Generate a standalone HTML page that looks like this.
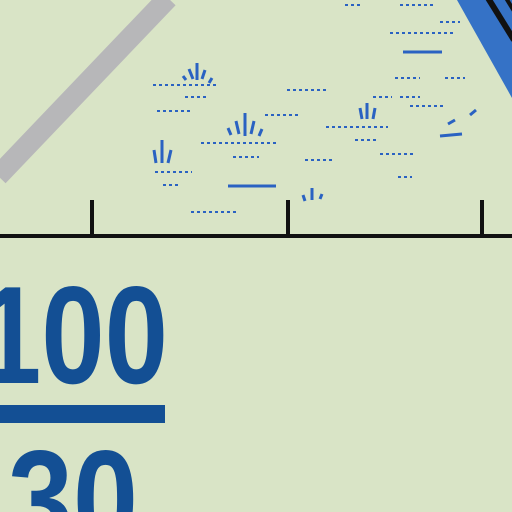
<!DOCTYPE html>
<html><head><meta charset="utf-8"><style>
html,body{margin:0;padding:0;background:#d9e4c6;width:512px;height:512px;overflow:hidden;}
svg{display:block}
</style></head><body>
<svg width="512" height="512" viewBox="0 0 512 512" style="overflow:hidden">
<rect width="512" height="512" fill="#d9e4c6"/>
<line x1="168" y1="-2" x2="-2" y2="176" stroke="#b7b7b9" stroke-width="21"/>
<g>
<polygon points="457,0 512,0 512,98" fill="#3572c6"/>
<line x1="488" y1="-2" x2="514" y2="40" stroke="#111" stroke-width="6"/>
<line x1="506" y1="-2" x2="514" y2="11" stroke="#111" stroke-width="4"/>
</g>
<g stroke="#2a62c2" fill="none">
<g stroke-width="3">
<line x1="197" y1="63" x2="197" y2="80"/><line x1="189" y1="69" x2="193" y2="79"/><line x1="205" y1="70" x2="202" y2="79"/><line x1="183" y1="76" x2="186" y2="80"/><line x1="212" y1="78" x2="209" y2="83"/>
<line x1="245" y1="113" x2="245" y2="136"/><line x1="236" y1="121" x2="239" y2="134"/><line x1="254" y1="121" x2="251" y2="134"/><line x1="228" y1="128" x2="231" y2="135"/><line x1="262" y1="129" x2="259" y2="136"/>
<line x1="162" y1="140" x2="162" y2="163"/><line x1="154" y1="150" x2="156" y2="163"/><line x1="171" y1="150" x2="168" y2="163"/>
<line x1="367" y1="103" x2="367" y2="119"/><line x1="360" y1="108" x2="362" y2="119"/><line x1="375" y1="108" x2="373" y2="119"/>
<line x1="312" y1="188" x2="312" y2="200"/><line x1="303" y1="195" x2="305" y2="201"/><line x1="322" y1="194" x2="320" y2="199"/>
<line x1="228" y1="186" x2="276" y2="186"/><line x1="403" y1="52" x2="442" y2="52"/><line x1="440" y1="136" x2="462" y2="134"/>
<line x1="448" y1="124" x2="455" y2="120"/><line x1="470" y1="115" x2="476" y2="110"/>
</g>
<g stroke-width="2" stroke-dasharray="3 3">
<line x1="153" y1="85" x2="218" y2="85"/><line x1="185" y1="97" x2="206" y2="97"/><line x1="157" y1="111" x2="192" y2="111"/>
<line x1="201" y1="143" x2="277" y2="143"/><line x1="233" y1="157" x2="259" y2="157"/><line x1="155" y1="172" x2="192" y2="172"/><line x1="163" y1="185" x2="180" y2="185"/>
<line x1="191" y1="212" x2="237" y2="212"/><line x1="287" y1="90" x2="326" y2="90"/><line x1="265" y1="115" x2="300" y2="115"/>
<line x1="326" y1="127" x2="388" y2="127"/><line x1="305" y1="160" x2="334" y2="160"/><line x1="380" y1="154" x2="413" y2="154"/>
<line x1="398" y1="177" x2="412" y2="177"/><line x1="355" y1="140" x2="376" y2="140"/><line x1="400" y1="5" x2="433" y2="5"/>
<line x1="345" y1="5" x2="362" y2="5"/><line x1="390" y1="33" x2="456" y2="33"/><line x1="395" y1="78" x2="420" y2="78"/>
<line x1="445" y1="78" x2="465" y2="78"/><line x1="400" y1="97" x2="420" y2="97"/><line x1="410" y1="106" x2="445" y2="106"/>
<line x1="440" y1="22" x2="460" y2="22"/><line x1="373" y1="97" x2="392" y2="97"/>
</g>
</g>
<g stroke="#111">
<line x1="0" y1="236" x2="512" y2="236" stroke-width="4"/>
<line x1="92" y1="200" x2="92" y2="236" stroke-width="4"/>
<line x1="288" y1="200" x2="288" y2="236" stroke-width="4"/>
<line x1="482" y1="200" x2="482" y2="236" stroke-width="4"/>
</g>
<g fill="#134f94" font-family="Liberation Sans, sans-serif" font-weight="bold">
<text x="-22" y="383" font-size="139" textLength="190" lengthAdjust="spacingAndGlyphs">100</text>
<rect x="0" y="405" width="165" height="18"/>
<text x="8" y="547" font-size="139" textLength="130" lengthAdjust="spacingAndGlyphs">30</text>
</g>
</svg>
</body></html>
